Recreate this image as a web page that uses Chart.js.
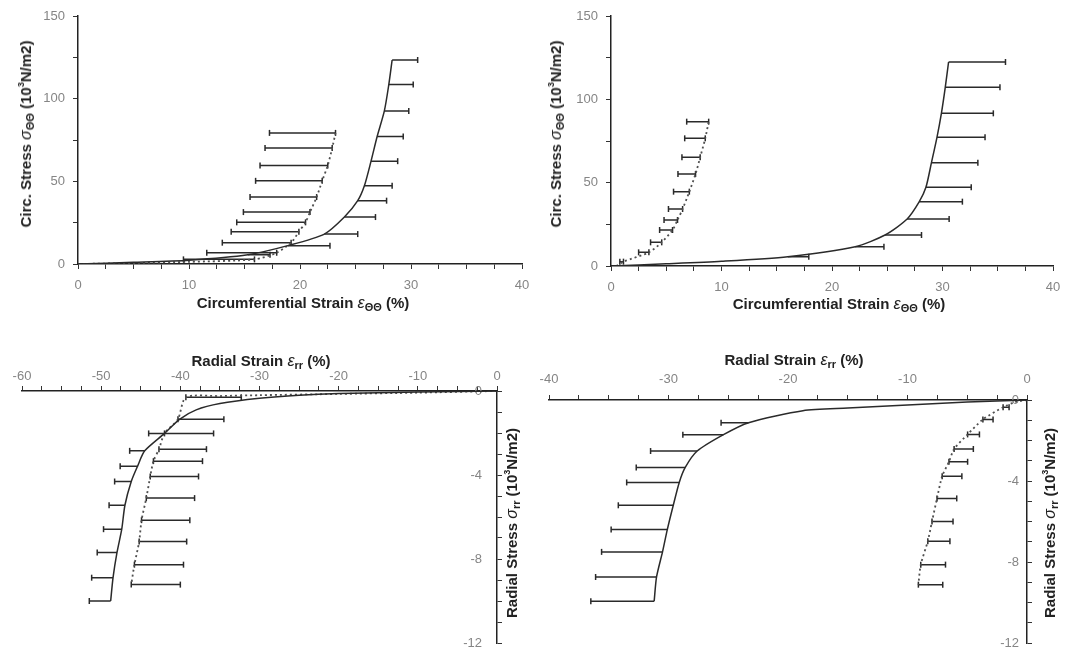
<!DOCTYPE html>
<html>
<head>
<meta charset="utf-8">
<script src="https://cdn.jsdelivr.net/npm/chart.js@4.4.1/dist/chart.umd.min.js"></script>
<style>
  body { margin: 0; background: #fff; }
  #page { position: relative; width: 1073px; height: 655px; overflow: hidden; background: #fff; }
  canvas { position: absolute; }
  .ttl { position: absolute; font: bold 15px "Liberation Sans", Arial, sans-serif; color: #222; white-space: nowrap; transform: translate(-50%, -50%); }
  .rot { transform: translate(-50%, -50%) rotate(-90deg); }
  .ttl i { font-weight: normal; font-size: 16px; }
  .ttl sub { font-size: 11px; vertical-align: -3px; line-height: 0; }
  .ttl sup { font-size: 9px; vertical-align: 7px; line-height: 0; }
</style>
</head>
<body>
<div id="page">
  <canvas id="chartA" width="540" height="320" style="left:0;top:0"></canvas>
  <canvas id="chartB" width="533" height="320" style="left:540px;top:0"></canvas>
  <canvas id="chartC" width="540" height="335" style="left:0;top:320px"></canvas>
  <canvas id="chartD" width="533" height="335" style="left:540px;top:320px"></canvas>

  <div class="ttl" style="left:303px;top:303px">Circumferential Strain <i>ε</i><sub>ΘΘ</sub> (%)</div>
  <div class="ttl rot" style="left:26px;top:134px">Circ. Stress <i>σ</i><sub>ΘΘ</sub> (10<sup>3</sup>N/m2)</div>
  <div class="ttl" style="left:839px;top:304px">Circumferential Strain <i>ε</i><sub>ΘΘ</sub> (%)</div>
  <div class="ttl rot" style="left:556px;top:134px">Circ. Stress <i>σ</i><sub>ΘΘ</sub> (10<sup>3</sup>N/m2)</div>
  <div class="ttl" style="left:261px;top:361px">Radial Strain <i>ε</i><sub>rr</sub> (%)</div>
  <div class="ttl rot" style="left:512px;top:523px">Radial Stress <i>σ</i><sub>rr</sub> (10<sup>3</sup>N/m2)</div>
  <div class="ttl" style="left:794px;top:360px">Radial Strain <i>ε</i><sub>rr</sub> (%)</div>
  <div class="ttl rot" style="left:1050px;top:523px">Radial Stress <i>σ</i><sub>rr</sub> (10<sup>3</sup>N/m2)</div>
</div>
<script>

//----- Data -----//

// top left: circumferential
const aSolidX = [0, 5, 10, 15.3, 18.9, 22.2, 24.0, 25.2, 25.8, 26.4, 26.95, 27.6, 28.0, 28.3]
const aSolidY = [0, 1.0, 2.3, 5.6, 11.1, 18.1, 28.4, 38.3, 47.3, 62.2, 77.1, 92.6, 108.5, 123.4]
const aSolidHi = [null, null, null, 17.3, 22.7, 25.2, 26.8, 27.8, 28.3, 28.8, 29.3, 29.8, 30.2, 30.6]
const aDotX = [0, 5, 10, 15.9, 17.9, 19.2, 19.9, 20.5, 20.9, 21.5, 22.0, 22.5, 22.9, 23.2]
const aDotY = [0, 0.6, 1.3, 2.8, 6.8, 12.9, 19.5, 25.2, 31.4, 40.5, 50.3, 59.6, 70.1, 79.3]
const aDotLo = [null, null, null, 9.5, 11.6, 13.0, 13.8, 14.3, 14.9, 15.5, 16.0, 16.4, 16.85, 17.25]

// top right: circumferential
const bSolidX = [0, 5, 10, 16.0, 22.1, 24.8, 26.8, 27.9, 28.5, 29.0, 29.5, 29.9, 30.25, 30.55]
const bSolidY = [0, 1.3, 2.8, 5.6, 11.6, 18.6, 28.2, 38.6, 47.2, 62.0, 77.2, 91.6, 107.2, 122.4]
const bSolidHi = [null, null, null, 17.9, 24.7, 28.1, 30.6, 31.8, 32.6, 33.2, 33.85, 34.6, 35.2, 35.7]
const bDotX = [0.5, 1.13, 3.43, 4.59, 5.57, 6.02, 6.48, 7.09, 7.65, 8.07, 8.53, 8.84]
const bDotY = [0, 2.6, 8.2, 14.2, 21.6, 27.6, 34.2, 44.6, 55.2, 65.2, 76.6, 86.6]
const bDotLo = [null, 0.8, 2.5, 3.58, 4.4, 4.8, 5.2, 5.66, 6.06, 6.42, 6.67, 6.85]

// bottom left: radial
const cSolidX = [0, -10, -20, -25, -30, -35, -38, -40.1, -42.0, -44.5, -45.4, -46.2, -47.0, -47.4, -48.0, -48.5, -48.8]
const cSolidY = [0, -0.05, -0.12, -0.2, -0.35, -0.6, -0.9, -1.35, -2.02, -2.85, -3.58, -4.31, -5.44, -6.58, -7.69, -8.89, -10.0]
const cSolidLo = [null, null, null, null, null, null, null, null, -44.0, -46.4, -47.6, -48.3, -49.0, -49.7, -50.5, -51.2, -51.5]
const cDotX = [0, -10, -20, -30, -35, -39.3, -40.3, -42.0, -42.7, -43.4, -43.8, -44.3, -44.9, -45.2, -45.8, -46.2]
const cDotY = [0, -0.08, -0.14, -0.2, -0.24, -0.3, -1.34, -2.02, -2.77, -3.34, -4.07, -5.10, -6.15, -7.17, -8.27, -9.22]
const cDotHi = [null, null, null, null, null, -32.3, -34.5, -35.8, -36.7, -37.2, -37.7, -38.2, -38.8, -39.2, -39.6, -40.0]

// bottom right: radial
const dSolidX = [0, -5, -10, -15, -18.75, -23.3, -25.4, -27.6, -28.6, -29.1, -29.6, -30.1, -30.5, -31.0, -31.2]
const dSolidY = [0, -0.1, -0.25, -0.4, -0.53, -1.12, -1.71, -2.52, -3.33, -4.07, -5.2, -6.4, -7.5, -8.74, -9.94]
const dSolidLo = [null, null, null, null, null, -25.6, -28.8, -31.5, -32.7, -33.5, -34.2, -34.8, -35.6, -36.1, -36.5]
const dDotX = [0, -1.0, -2.0, -3.69, -4.97, -6.1, -6.53, -7.1, -7.53, -7.95, -8.3, -8.89, -9.09]
const dDotY = [0, -0.1, -0.36, -0.96, -1.70, -2.42, -3.05, -3.76, -4.86, -6.0, -6.97, -8.13, -9.12]
const dDotHi = [null, null, -1.5, -2.84, -3.98, -4.49, -4.97, -5.45, -5.88, -6.19, -6.45, -6.82, -7.05]

// tick labels
const circStrainTicks = [0, 10, 20, 30, 40]
const circStressTicks = [0, 50, 100, 150]
const radStrainTicksC = [-60, -50, -40, -30, -20, -10, 0]
const radStrainTicksD = [-40, -30, -20, -10, 0]
const radStressTicks = [0, -4, -8, -12]

//----- Helpers -----//

function points (xs, ys) {
    return xs.map((x, i) => ({x: x, y: ys[i]}))
}

// one segment per point, from the curve to the bar end, broken by a null
function barPoints (xs, ys, ends) {
    var out = []
    for (var i = 0; i < xs.length; i++) {
        if (ends[i] === null) continue
        out.push({x: xs[i], y: ys[i]}, {x: ends[i], y: ys[i]}, {x: ends[i], y: null})
    }
    return out
}

function curve (data, dotted) {
    return {
        data: data,
        borderColor: dotted ? '#505050' : '#2a2a2a',
        borderWidth: dotted ? 1.8 : 1.5,
        borderDash: dotted ? [2, 3] : [],
        pointRadius: 0,
        tension: 0.25,
        fill: false
    }
}

function bars (data, bothCaps) {
    return {
        data: data,
        borderColor: '#2a2a2a',
        borderWidth: 1.5,
        pointStyle: 'line',
        pointRotation: 90,
        pointBorderColor: '#2a2a2a',
        pointBorderWidth: 1.5,
        pointRadius: c => (bothCaps || c.dataIndex % 3 === 1) ? 3 : 0,
        tension: 0,
        spanGaps: false
    }
}

function axis (o) {
    return {
        type: 'linear',
        position: o.pos,
        min: o.min,
        max: o.max,
        ticks: {
            stepSize: o.step,
            autoSkip: false,
            maxRotation: 0,
            mirror: !!o.mirror,
            padding: o.pad,
            color: '#858585',
            font: {family: 'Liberation Sans', size: 13},
            callback: v => o.labels.includes(v) ? String(v) : ''
        },
        grid: {drawOnChartArea: false, drawTicks: true, tickLength: 5, color: '#333', lineWidth: 1},
        border: {display: true, color: '#222', width: 1.5},
        afterFit: s => {
            if (s.isHorizontal()) s.height = o.size
            else s.width = o.size
            s.paddingLeft = 0; s.paddingRight = 0; s.paddingTop = 0; s.paddingBottom = 0
        }
    }
}

function panel (id, datasets, xAxis, yAxis, pad) {
    return new Chart(document.getElementById(id), {
        type: 'line',
        data: {datasets: datasets},
        options: {
            responsive: false,
            animation: false,
            devicePixelRatio: 1,
            layout: {padding: pad},
            plugins: {legend: {display: false}, tooltip: {enabled: false}},
            scales: {x: xAxis, y: yAxis}
        }
    })
}

//----- Charts -----//

panel('chartA', [
    curve(points(aSolidX, aSolidY), false),
    curve(points(aDotX, aDotY), true),
    bars(barPoints(aSolidX, aSolidY, aSolidHi), false),
    bars(barPoints(aDotX, aDotY, aDotLo), true)
],
    axis({pos: 'bottom', min: 0, max: 40, step: 2.5, labels: circStrainTicks, pad: 9, size: 56}),
    axis({pos: 'left', min: 0, max: 150, step: 25, labels: circStressTicks, pad: 8, size: 78}),
    {top: 16, right: 18, left: 0, bottom: 0})

panel('chartB', [
    curve(points(bSolidX, bSolidY), false),
    curve(points(bDotX, bDotY), true),
    bars(barPoints(bSolidX, bSolidY, bSolidHi), false),
    bars(barPoints(bDotX, bDotY, bDotLo), true)
],
    axis({pos: 'bottom', min: 0, max: 40, step: 2.5, labels: circStrainTicks, pad: 9, size: 54}),
    axis({pos: 'left', min: 0, max: 150, step: 25, labels: circStressTicks, pad: 8, size: 71}),
    {top: 16, right: 20, left: 0, bottom: 0})

// right-hand y axes keep their labels on the inner side (mirror, padding measured back from the axis)
panel('chartC', [
    curve(points(cSolidX, cSolidY), false),
    curve(points(cDotX, cDotY), true),
    bars(barPoints(cSolidX, cSolidY, cSolidLo), false),
    bars(barPoints(cDotX, cDotY, cDotHi), true)
],
    axis({pos: 'top', min: -60, max: 0, step: 2.5, labels: radStrainTicksC, pad: 2, size: 71}),
    axis({pos: 'right', min: -12, max: 0, step: 1, labels: radStressTicks, pad: -15, size: 43, mirror: true}),
    {top: 0, right: 0, left: 22, bottom: 12})

panel('chartD', [
    curve(points(dSolidX, dSolidY), false),
    curve(points(dDotX, dDotY), true),
    bars(barPoints(dSolidX, dSolidY, dSolidLo), false),
    bars(barPoints(dDotX, dDotY, dDotHi), true)
],
    axis({pos: 'top', min: -40, max: 0, step: 2.5, labels: radStrainTicksD, pad: 8, size: 80}),
    axis({pos: 'right', min: -12, max: 0, step: 1, labels: radStressTicks, pad: -8, size: 46, mirror: true}),
    {top: 0, right: 0, left: 9, bottom: 12})

</script>
</body>
</html>
